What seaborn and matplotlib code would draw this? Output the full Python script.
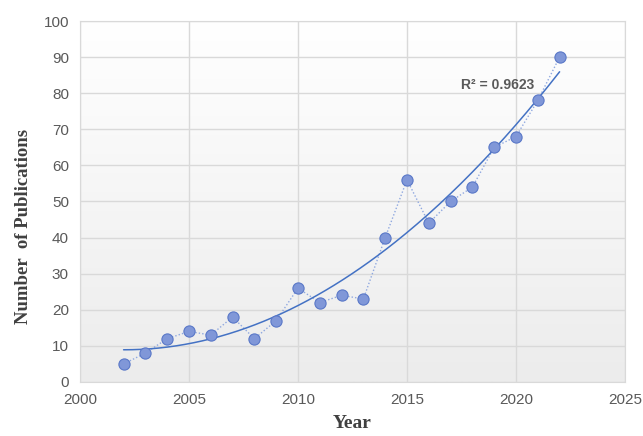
import matplotlib
matplotlib.use("Agg")
import matplotlib.pyplot as plt
import seaborn as sns
import numpy as np
import pandas as pd

years = [2002, 2003, 2004, 2005, 2006, 2007, 2008, 2009, 2010, 2011, 2012,
         2013, 2014, 2015, 2016, 2017, 2018, 2019, 2020, 2021, 2022]
pubs = [5, 8, 12, 14, 13, 18, 12, 17, 26, 22, 24,
        23, 40, 56, 44, 50, 54, 65, 68, 78, 90]
r2_label = "R² = 0.9623"

df = pd.DataFrame({"Year": years, "Publications": pubs})

sns.set_style("white")
plt.rcParams["font.family"] = ["Liberation Sans", "DejaVu Sans"]

fig = plt.figure(figsize=(6.43, 4.36), dpi=100)
ax = fig.add_axes([0.1244, 0.1239, 0.8476, 0.8279])

# light vertical gradient in the plot area
grad = np.linspace(0, 1, 256).reshape(-1, 1)
ax.imshow(grad, extent=[0, 1, 0, 1], transform=ax.transAxes, aspect="auto",
          cmap=matplotlib.colors.LinearSegmentedColormap.from_list("g", ["#ececec", "#ffffff"]),
          origin="lower", zorder=0)

sns.lineplot(data=df, x="Year", y="Publications", ax=ax, color="#8fa8e0",
             linestyle=(0, (1, 1.5)), linewidth=1.0, zorder=2)
sns.scatterplot(data=df, x="Year", y="Publications", ax=ax, s=65,
                color="#8097d8", edgecolor="#5a78c8", linewidth=0.8, zorder=4)

# quadratic trend line
coef = np.polyfit(years, pubs, 2)
xs = np.linspace(years[0], years[-1], 200)
ax.plot(xs, np.polyval(coef, xs), color="#4472c4", linewidth=1.1, zorder=3)
ax.text(2017.5, 81.3, r2_label, fontsize=10, color="#595959",
        fontweight="bold", zorder=5)

ax.set_xlim(2000, 2025)
ax.set_ylim(0, 100)
ax.set_xticks(range(2000, 2026, 5))
ax.set_yticks(range(0, 101, 10))
ax.grid(True, color="#d9d9d9", linewidth=1.0)
ax.set_axisbelow(True)
for s in ax.spines.values():
    s.set_color("#d9d9d9")
ax.tick_params(axis="both", length=0, labelsize=11, labelcolor="#595959", pad=8)

ax.set_xlabel("Year", fontsize=14, fontweight="bold", family="Liberation Serif",
              color="#404040", labelpad=6)
ax.set_ylabel("Number  of Publications", fontsize=13.5, fontweight="bold",
              family="Liberation Serif", color="#404040")
ax.yaxis.set_label_coords(-0.088, 0.43)

fig.savefig("out.png", dpi=100)
